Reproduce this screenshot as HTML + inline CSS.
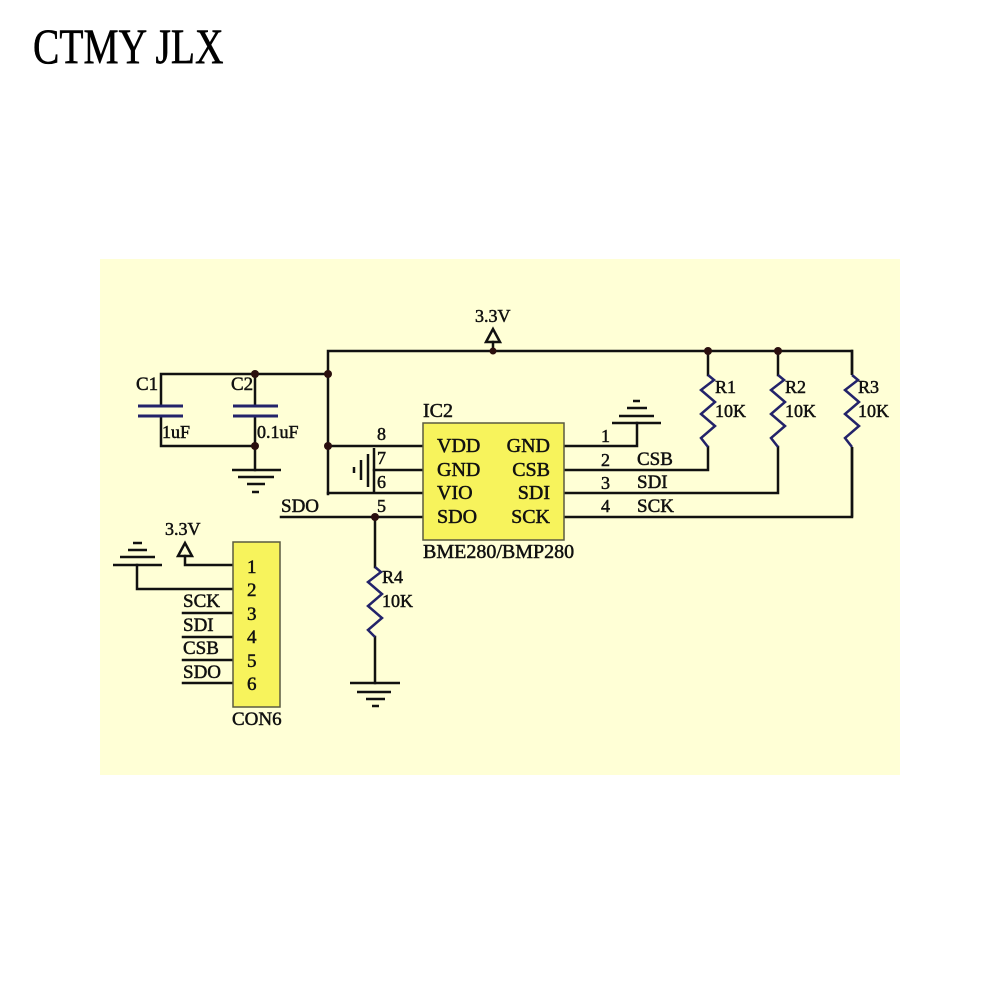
<!DOCTYPE html>
<html><head><meta charset="utf-8"><style>
html,body{margin:0;padding:0;background:#fff;}
body{width:1000px;height:1000px;position:relative;overflow:hidden;}
svg{position:absolute;left:0;top:0;}
</style></head><body>
<svg width="1000" height="1000" viewBox="0 0 1000 1000" xmlns="http://www.w3.org/2000/svg">
<rect x="0" y="0" width="1000" height="1000" fill="#fff"/>
<text x="33" y="63" font-family="Liberation Serif, serif" font-size="50" fill="#000" stroke="#000" stroke-width="0.6" transform="translate(33 0) scale(0.79 1) translate(-33 0)">CTMY JLX</text>
<rect x="100" y="259" width="800" height="516" fill="#ffffd6"/>

<g stroke="#111" stroke-width="2.5" fill="none" stroke-linecap="square">
  <polyline points="328,494 328,351 852,351 852,517 564,517"/>
  <line x1="493" y1="342" x2="493" y2="351"/>
  <polyline points="328,374 161,374 161,406"/>
  <line x1="255" y1="374" x2="255" y2="406"/>
  <polyline points="161,416 161,446 255,446 255,470"/>
  <line x1="255" y1="416" x2="255" y2="446"/>
  <line x1="328" y1="446" x2="423" y2="446"/>
  <line x1="328" y1="493" x2="423" y2="493"/>
  <line x1="374" y1="470" x2="423" y2="470"/>
  <line x1="281" y1="517" x2="423" y2="517"/>
  <line x1="375" y1="517" x2="375" y2="567"/>
  <line x1="375" y1="637" x2="375" y2="683"/>
  <polyline points="564,446 637,446 637,423"/>
  <polyline points="564,470 708,470 708,447"/>
  <polyline points="564,493 778,493 778,447"/>
  <line x1="708" y1="351" x2="708" y2="375"/>
  <line x1="778" y1="351" x2="778" y2="375"/>
  <line x1="852" y1="351" x2="852" y2="375"/>
  <polyline points="185,556 185,565 233,565"/>
  <polyline points="137,565 137,589 233,589"/>
  <line x1="183" y1="613" x2="233" y2="613"/>
  <line x1="183" y1="637" x2="233" y2="637"/>
  <line x1="183" y1="660" x2="233" y2="660"/>
  <line x1="183" y1="683" x2="233" y2="683"/>
</g>
<rect x="848" y="375" width="8" height="72" fill="#ffffd6"/>

<g stroke="#111" stroke-width="2.5" stroke-linecap="butt">
  <line x1="232" y1="470" x2="281" y2="470"/>
  <line x1="238" y1="477" x2="274" y2="477"/>
  <line x1="247" y1="484" x2="265" y2="484"/>
  <line x1="252" y1="492" x2="259" y2="492"/>
  <line x1="350" y1="683" x2="400" y2="683"/>
  <line x1="357" y1="692" x2="391" y2="692"/>
  <line x1="366" y1="699" x2="385" y2="699"/>
  <line x1="372" y1="706" x2="379" y2="706"/>
  <line x1="612" y1="423" x2="661" y2="423"/>
  <line x1="619" y1="416" x2="654" y2="416"/>
  <line x1="627" y1="408" x2="647" y2="408"/>
  <line x1="633" y1="401" x2="640" y2="401"/>
  <line x1="113" y1="565" x2="162" y2="565"/>
  <line x1="120" y1="557" x2="155" y2="557"/>
  <line x1="128" y1="550" x2="147" y2="550"/>
  <line x1="133" y1="543" x2="142" y2="543"/>
  <line x1="374" y1="448" x2="374" y2="492"/>
  <line x1="368" y1="454" x2="368" y2="487"/>
  <line x1="361" y1="460" x2="361" y2="480"/>
  <line x1="354" y1="467" x2="354" y2="473"/>
</g>

<g stroke="#111" stroke-width="2.5" fill="none" stroke-linejoin="miter">
  <polygon points="493,329 486,342 500,342"/>
  <polygon points="185,543 178,556 192,556"/>
</g>

<g stroke="#23236a" stroke-width="3">
  <line x1="138" y1="406" x2="183" y2="406"/>
  <line x1="138" y1="416" x2="183" y2="416"/>
  <line x1="233" y1="406" x2="278" y2="406"/>
  <line x1="233" y1="416" x2="278" y2="416"/>
</g>

<g stroke="#23236a" stroke-width="2.5" fill="none" stroke-linejoin="miter">
  <polyline points="708,375 714,380 701,390 715,402 701,414 715,426 701,438 708,447"/>
  <polyline points="778,375 784,380 771,390 785,402 771,414 785,426 771,438 778,447"/>
  <polyline points="852,375 858,380 845,390 859,402 845,414 859,426 845,438 852,447"/>
  <polyline points="375,567 381,572 368,582 382,594 368,606 382,618 368,630 375,637"/>
</g>
<line x1="852" y1="447" x2="852" y2="517" stroke="#111" stroke-width="2.5"/>

<g fill="#2a0f0f">
  <circle cx="328" cy="374" r="4"/>
  <circle cx="255" cy="374" r="4"/>
  <circle cx="255" cy="446" r="4"/>
  <circle cx="328" cy="446" r="4"/>
  <circle cx="493" cy="351" r="3.5"/>
  <circle cx="708" cy="351" r="4"/>
  <circle cx="778" cy="351" r="4"/>
  <circle cx="375" cy="517" r="4"/>
</g>

<rect x="423" y="423" width="141" height="117" fill="#f7f35c" stroke="#5a5a40" stroke-width="1.5"/>
<rect x="233" y="542" width="47" height="165" fill="#f7f35c" stroke="#5a5a40" stroke-width="1.5"/>

<g font-family="Liberation Serif, serif" font-size="20" fill="#111" stroke="#111" stroke-width="0.5">
  <text x="475" y="322" font-size="18">3.3V</text>
  <text x="165" y="535" font-size="18">3.3V</text>
  <text x="136" y="390" font-size="19">C1</text>
  <text x="231" y="390" font-size="19">C2</text>
  <text x="162" y="438" font-size="18">1uF</text>
  <text x="257" y="438" font-size="18">0.1uF</text>
  <text x="423" y="417">IC2</text>
  <text x="437" y="452">VDD</text>
  <text x="437" y="476">GND</text>
  <text x="437" y="499">VIO</text>
  <text x="437" y="523">SDO</text>
  <text x="550" y="452" text-anchor="end">GND</text>
  <text x="550" y="476" text-anchor="end">CSB</text>
  <text x="550" y="499" text-anchor="end">SDI</text>
  <text x="550" y="523" text-anchor="end">SCK</text>
  <text x="423" y="558">BME280/BMP280</text>
  <text x="377" y="440" font-size="18">8</text>
  <text x="377" y="464" font-size="18">7</text>
  <text x="377" y="488" font-size="18">6</text>
  <text x="377" y="512" font-size="18">5</text>
  <text x="281" y="512" font-size="19">SDO</text>
  <text x="601" y="442" font-size="18">1</text>
  <text x="601" y="466" font-size="18">2</text>
  <text x="601" y="489" font-size="18">3</text>
  <text x="601" y="512" font-size="18">4</text>
  <text x="637" y="465" font-size="19">CSB</text>
  <text x="637" y="488" font-size="19">SDI</text>
  <text x="637" y="512" font-size="19">SCK</text>
  <text x="715" y="393" font-size="18">R1</text>
  <text x="715" y="417" font-size="18">10K</text>
  <text x="785" y="393" font-size="18">R2</text>
  <text x="785" y="417" font-size="18">10K</text>
  <text x="858" y="393" font-size="18">R3</text>
  <text x="858" y="417" font-size="18">10K</text>
  <text x="382" y="583" font-size="18">R4</text>
  <text x="382" y="607" font-size="18">10K</text>
  <text x="247" y="573" font-size="19">1</text>
  <text x="247" y="596" font-size="19">2</text>
  <text x="247" y="620" font-size="19">3</text>
  <text x="247" y="643" font-size="19">4</text>
  <text x="247" y="667" font-size="19">5</text>
  <text x="247" y="690" font-size="19">6</text>
  <text x="183" y="607" font-size="19">SCK</text>
  <text x="183" y="631" font-size="19">SDI</text>
  <text x="183" y="654" font-size="19">CSB</text>
  <text x="183" y="678" font-size="19">SDO</text>
  <text x="232" y="725" font-size="19">CON6</text>
</g>
</svg>
</body></html>
